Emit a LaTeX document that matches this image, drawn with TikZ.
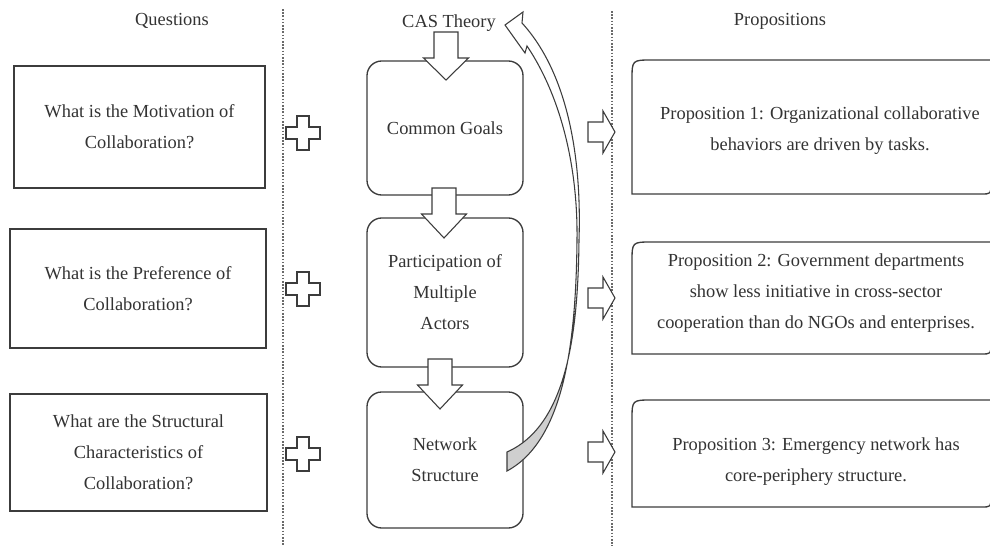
\documentclass[tikz,border=0pt]{standalone}
\usepackage{fontspec}
\setmainfont{Liberation Serif}
\definecolor{ink}{HTML}{333333}
\definecolor{edgec}{HTML}{3C3C3C}
\definecolor{ribbonc}{HTML}{CFCFCF}
\definecolor{dotc}{HTML}{6A6A6A}
\newcommand\ribbonpath{(505,25) -- (523,12) -- (522,23) .. controls (565,70) and (582,150) .. (579,240) .. controls (578,330) and (568,425) .. (507,452) -- (507,471) .. controls (565,440) and (576,340) .. (577,240) .. controls (578,165) and (560,95) .. (527,46) -- (525,53) -- cycle}
\tikzset{
  txt/.style={font=\fontsize{13.8pt}{23.25pt}\selectfont, text=ink, align=center, inner sep=0pt},
  qbox/.style={txt, draw=edgec, line width=1pt},
  cbox/.style={qbox, rounded corners=11pt, minimum width=117pt},
  shp/.style={draw=edgec, line width=0.8pt, fill=white, line join=miter},
  frame/.style={draw=edgec, line width=1pt},
  sep/.style={dotc, line width=0.9pt, dash pattern=on 1.2pt off 1.2pt},
  plussign/.pic={\draw[shp] (-6,-17) -- (6,-17) -- (6,-6) -- (17,-6) -- (17,6) -- (6,6) -- (6,17) -- (-6,17) -- (-6,6) -- (-17,6) -- (-17,-6) -- (-6,-6) -- cycle;},
  rightblock/.pic={\draw[shp] (-13,-10) -- (2,-10) -- (2,-21) -- (14,0) -- (2,21) -- (2,10) -- (-13,10) -- cycle;},
  downblock/.pic={\draw[shp] (-12,-50) -- (12,-50) -- (12,-24) -- (22.5,-24) -- (0,0) -- (-22.5,-24) -- (-12,-24) -- cycle;},
  downblocka/.pic={\draw[shp] (-12,-48) -- (12,-48) -- (12,-22) -- (22.5,-22) -- (0,0) -- (-22.5,-22) -- (-12,-22) -- cycle;}
}
\begin{document}
\begin{tikzpicture}[x=0.75pt,y=-0.75pt]
\useasboundingbox (0,0) rectangle (990,546);
\fill[white] (0,0) rectangle (990,546);

% separators
\coordinate (s1t) at (283,9);
\coordinate (s1b) at (283,546);
\coordinate (s2t) at (612,11);
\coordinate (s2b) at (612,546);
\draw[sep] (s1t) -- (s1b);
\draw[sep] (s2t) -- (s2b);

% titles
\node[txt, anchor=base] (tq) at (172,26) {Questions};
\node[txt, anchor=base] (tc) at (449,27) {CAS Theory};
\node[txt, anchor=base] (tp) at (780,26) {Propositions};

% question boxes
\node[qbox, minimum width=188.25pt, minimum height=91.5pt] (q1) at (139.5,127) {What is the Motivation of\\Collaboration?};
\node[qbox, minimum width=192pt, minimum height=89.25pt] (q2) at (138,288.5) {What is the Preference of\\Collaboration?};
\node[qbox, minimum width=192.75pt, minimum height=87.75pt] (q3) at (138.5,452.5) {What are the Structural\\Characteristics of\\Collaboration?};

% plus signs
\pic at (303,133) {plussign};
\pic at (303,289) {plussign};
\pic at (303,454) {plussign};

% centre boxes
\node[cbox, minimum height=100.5pt] (c1) at (445,128) {Common Goals};
\node[cbox, minimum height=111.75pt] (c2) at (445,292.5) {Participation of\\Multiple\\Actors};
\node[cbox, minimum height=102pt] (c3) at (445,460) {Network\\Structure};

% down block arrows
\pic at (446,80) {downblocka};
\pic at (444,238) {downblock};
\pic at (440,409) {downblock};

% curved feedback arrow
\fill[white] \ribbonpath;
\begin{scope}
\clip (0,385) rectangle (990,546);
\fill[ribbonc] \ribbonpath;
\end{scope}
\draw[edgec, line width=0.8pt, line join=miter] \ribbonpath;

% right block arrows
\pic at (601,132) {rightblock};
\pic at (601,298) {rightblock};
\pic at (601,452) {rightblock};

% proposition boxes
\draw[frame] (632,194) -- (632,80) .. controls (632,60) .. (652,60) -- (991,60) -- (991,184) .. controls (991,194) .. (981,194) -- cycle;
\draw[frame] (632,354) -- (632,262) .. controls (632,242) .. (652,242) -- (991,242) -- (991,344) .. controls (991,354) .. (981,354) -- cycle;
\draw[frame] (632,507) -- (632,420) .. controls (632,400) .. (652,400) -- (991,400) -- (991,497) .. controls (991,507) .. (981,507) -- cycle;
\node[txt] (p1) at (820,131) {Proposition 1: Organizational collaborative\\behaviors are driven by tasks.};
\node[txt] (p2) at (816,293) {Proposition 2: Government departments\\show less initiative in cross-sector\\cooperation than do NGOs and enterprises.};
\node[txt] (p3) at (816,462) {Proposition 3: Emergency network has\\core-periphery structure.};
\end{tikzpicture}
\end{document}
